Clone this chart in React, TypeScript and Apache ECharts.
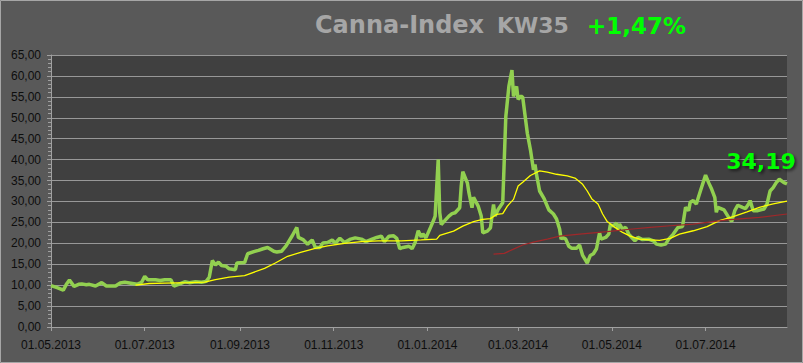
import React, { useEffect, useRef } from "react";
import * as echarts from "echarts";

// x values: days since 01.05.2013
const START_DATE = "2013-05-01";
const END_DAY = 479;

const greenDays = [0,4,8,10,12,15,18,20,23,25,29,33,36,42,45,48,53,56,59,61,63,68,71,74,78,80,83,87,90,94,98,101,103,105,107,109,111,114,116,120,121,126,128,132,135,138,141,145,147,150,153,157,160,161,164,167,170,172,175,177,180,183,185,188,191,195,198,202,205,209,212,215,217,220,223,225,227,229,233,235,237,239,241,242,244,247,249,250,252,253,254,256,259,261,263,266,267,268,271,272,274,275,278,280,281,284,286,287,288,289,291,294,295,296,298,300,301,303,304,306,307,310,312,314,315,316,318,321,324,327,329,331,332,333,335,337,339,342,344,346,349,351,353,355,357,358,361,363,364,366,368,369,370,372,374,376,378,380,382,385,389,392,394,397,400,402,405,408,411,413,415,416,418,420,421,423,426,428,430,432,433,434,438,441,443,445,447,450,452,454,455,457,460,464,466,468,470,472,474,477,479];
const greenVals = [9.9,9.4,8.8,10.2,11.2,9.7,10.2,10.3,10.1,10.2,9.8,10.6,9.8,9.8,10.5,10.7,10.4,10.2,10.7,12.1,11.3,11.3,11.1,11.3,11.3,9.8,10.2,10.8,10.6,10.8,10.7,10.9,11.9,15.9,14.8,15.5,14.7,14.5,13.9,13.7,15.3,15.4,17.5,18.0,18.3,18.7,19.0,18.1,17.9,18.1,19.4,21.8,23.8,21.4,20.9,19.8,20.8,19.0,19.0,20.1,20.2,20.8,20.0,21.2,20.2,21.0,21.3,21.0,20.4,21.0,21.4,21.7,20.4,21.7,21.8,21.2,18.7,19.0,19.3,18.7,20.2,23.0,21.5,22.3,21.3,23.8,25.5,26.5,40.0,27.3,24.5,25.3,26.5,27.1,27.3,28.5,33.7,37.1,34.4,32.1,28.5,31.0,28.9,26.5,22.5,22.9,23.7,26.5,29.3,26.5,28.1,29.7,40.0,50.3,57.5,61.4,55.1,57.5,54.4,55.2,54.9,46.3,42.4,37.6,38.8,36.4,32.5,30.6,28.0,27.0,25.8,23.4,21.0,21.4,21.0,19.3,18.8,18.8,19.6,17.1,15.3,17.1,17.5,18.7,22.5,21.0,21.4,22.2,24.4,24.2,24.8,23.4,24.6,23.4,23.8,22.2,21.4,20.6,21.4,20.9,21.0,20.6,19.8,19.6,19.8,21.0,22.2,23.8,24.0,28.6,27.8,29.8,30.2,29.4,30.6,32.9,36.3,34.5,32.9,31.0,27.4,28.6,28.0,26.2,25.2,27.8,29.1,28.6,28.3,29.4,30.2,27.8,27.8,28.2,29.4,32.5,33.3,34.5,35.3,34.5,34.19];

const yellowDays = [55,64,74,90,100,107,116,126,139,146,154,163,172,180,191,202,213,228,241,251,253,262,268,275,281,286,290,294,297,301,304,307,312,318,323,329,336,341,346,349,352,356,359,362,367,372,377,383,390,396,403,409,418,427,435,444,453,461,470,479];
const yellowVals = [10.0,10.4,10.5,10.6,10.7,11.3,11.9,12.3,14.0,15.3,16.9,17.9,18.8,19.4,20.0,20.4,20.6,20.6,20.8,21.0,21.9,22.9,24.1,25.2,25.7,25.9,26.9,27.1,28.9,30.5,33.7,34.6,36.2,37.3,37.0,36.5,36.1,35.6,34.1,32.5,30.6,29.4,27.0,25.2,23.8,22.6,21.7,21.0,20.8,20.7,21.2,22.2,23.0,24.0,25.4,26.4,27.5,28.6,29.4,30.1];

const redDays = [288,295,301,307,314,323,331,344,362,375,390,403,418,440,461,479];
const redVals = [17.4,17.6,18.6,19.6,20.3,21.0,21.7,22.2,22.8,23.3,23.8,24.2,24.6,25.6,26.2,27.0];

const tickDates = ["2013-05-01","2013-07-01","2013-09-01","2013-11-01","2014-01-01","2014-03-01","2014-05-01","2014-07-01"];

const titleMain = "Canna-Index";
const titleWeek = "KW35";
const titleChange = "+1,47%";

const DAY_MS = 86400000;
const startTs = new Date(START_DATE).getTime();
const toTs = (d: number) => startTs + d * DAY_MS;
const pairs = (days: number[], vals: number[]) => days.map((d, i) => [toTs(d), vals[i]]);
const comma = (v: number) => v.toFixed(2).replace(".", ",");
const pad = (n: number) => (n < 10 ? "0" + n : "" + n);
const fmtDate = (ts: number) => {
  const d = new Date(ts);
  return pad(d.getUTCDate()) + "." + pad(d.getUTCMonth() + 1) + "." + d.getUTCFullYear();
};

const tickTs = tickDates.map((s) => new Date(s).getTime());
const lastIdx = greenDays.length - 1;

const axisGray = "#a0a0a0";
const labelColor = "#0d0d0d";
const shadow = { shadowColor: "rgba(0,0,0,0.55)", shadowBlur: 3, shadowOffsetX: 2, shadowOffsetY: 2 };

const option: any = {
  animation: false,
  backgroundColor: "#595959",
  grid: { left: 51, right: 16, top: 55, bottom: 36, show: true, backgroundColor: "#404040", borderWidth: 0 },
  graphic: [
    { type: "rect", shape: { x: 0.5, y: 0.5, width: 802, height: 362 }, style: { fill: "none", stroke: "#a6a6a6", lineWidth: 1 }, silent: true },
    { type: "text", x: 315, y: 25, style: { text: titleMain, font: "bold 24px 'DejaVu Sans'", fill: "#a6a6a6", textVerticalAlign: "middle", ...shadow } },
    { type: "text", x: 497, y: 25.7, style: { text: titleWeek, font: "bold 22px 'DejaVu Sans'", fill: "#a6a6a6", textVerticalAlign: "middle", ...shadow } },
    { type: "text", x: 587, y: 25.6, style: { text: titleChange, font: "bold 23px 'DejaVu Sans'", fill: "#00ff00", textVerticalAlign: "middle", ...shadow } },
  ],
  xAxis: {
    type: "value",
    min: toTs(0),
    max: toTs(END_DAY),
    axisLine: { show: true, onZero: false, lineStyle: { color: axisGray, width: 1 } },
    axisTick: { show: true, length: 4, lineStyle: { color: axisGray }, customValues: tickTs },
    axisLabel: {
      customValues: tickTs,
      formatter: (v: number) => fmtDate(v),
      color: labelColor,
      fontFamily: "Liberation Sans",
      fontSize: 12,
      margin: 12,
    },
    splitLine: { show: false },
  },
  yAxis: {
    type: "value",
    min: 0,
    max: 65,
    interval: 5,
    axisLine: { show: true, lineStyle: { color: axisGray, width: 1 } },
    axisTick: { show: true, length: 4, lineStyle: { color: axisGray } },
    minorTick: { show: true, splitNumber: 5, length: 3, lineStyle: { color: axisGray } },
    axisLabel: { formatter: (v: number) => comma(v), color: labelColor, fontFamily: "Liberation Sans", fontSize: 12, margin: 10 },
    splitLine: { show: true, lineStyle: { color: "#989898", width: 1 } },
  },
  series: [
    {
      type: "line",
      data: pairs(greenDays, greenVals),
      showSymbol: false,
      lineStyle: { color: "#92d050", width: 3.5 },
      itemStyle: { color: "#92d050" },
      z: 2,
      markPoint: {
        symbol: "circle",
        symbolSize: 1,
        itemStyle: { color: "rgba(0,0,0,0)" },
        label: {
          show: true,
          position: "top",
          offset: [-26, -6],
          formatter: () => comma(greenVals[lastIdx]),
          color: "#00ff00",
          fontFamily: "DejaVu Sans",
          fontWeight: "bold",
          fontSize: 22,
          textShadowColor: "rgba(0,0,0,0.55)",
          textShadowBlur: 3,
          textShadowOffsetX: 2,
          textShadowOffsetY: 2,
        },
        data: [{ coord: [toTs(greenDays[lastIdx]), greenVals[lastIdx]] }],
      },
    },
    {
      type: "line",
      data: pairs(yellowDays, yellowVals),
      showSymbol: false,
      lineStyle: { color: "#ffff00", width: 1.3 },
      itemStyle: { color: "#ffff00" },
      z: 3,
    },
    {
      type: "line",
      data: pairs(redDays, redVals),
      showSymbol: false,
      lineStyle: { color: "#a0282a", width: 1.2 },
      itemStyle: { color: "#a0282a" },
      z: 4,
    },
  ],
};

export default function App() {
  const ref = useRef<HTMLDivElement>(null);
  useEffect(() => {
    const chart = echarts.init(ref.current!, null, { renderer: "svg" });
    chart.setOption(option);
    return () => chart.dispose();
  }, []);
  return <div ref={ref} style={{ position: "absolute", left: 0, top: 0, width: 803, height: 363 }} />;
}
